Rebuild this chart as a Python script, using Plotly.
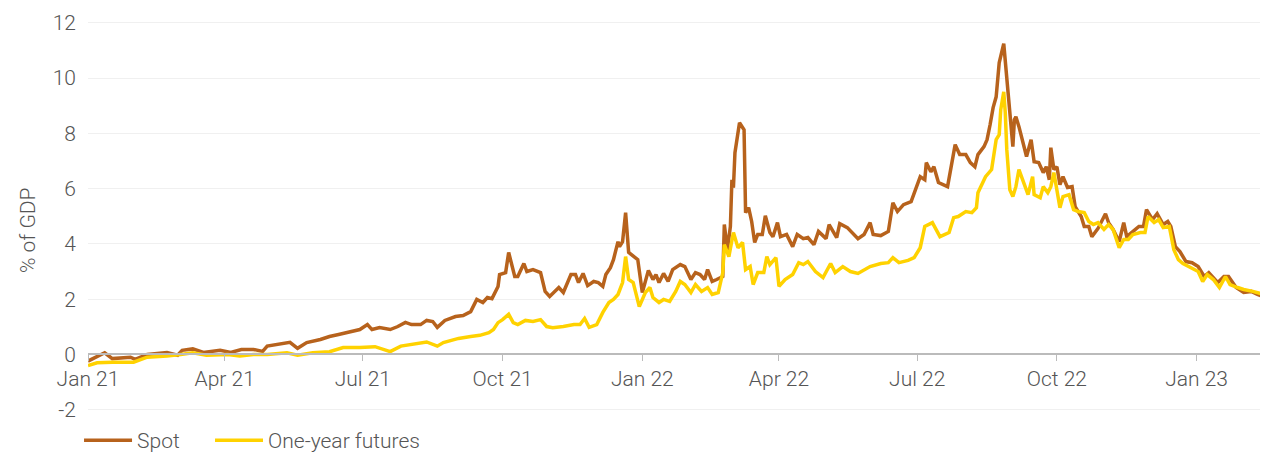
import pandas as pd
import plotly.graph_objects as go

# Days since 2021-01-01 and values (% of GDP)
spot_days = [0, 11, 16, 28, 31, 39, 52, 59, 62, 69, 76, 87, 94, 101, 109, 115, 118, 126, 133, 138,
             144, 153, 159, 165, 173, 179, 184, 187, 192, 199, 204, 209, 213, 219, 223, 227, 230, 235,
             242, 247, 252, 256, 260, 263, 266, 268, 270, 271, 275, 277, 279, 281, 283, 287, 289, 293,
             298, 301, 304, 310, 313, 318, 321, 323, 326, 329, 333, 336, 339, 341, 344, 346, 349, 350,
             352, 354, 356, 359, 362, 365, 367, 369, 372, 374, 376, 379, 382, 385, 390, 393, 397, 400,
             403, 406, 408, 411, 414, 418, 419, 421, 423, 424, 425, 426, 429, 432, 433, 435, 437, 439,
             441, 444, 446, 449, 451, 454, 456, 460, 464, 467, 471, 474, 478, 481, 486, 488, 493, 495,
             500, 507, 511, 515, 517, 522, 527, 530, 533, 537, 542, 545, 548, 551, 552, 555, 557, 560,
             566, 571, 574, 578, 581, 584, 586, 590, 592, 594, 596, 598, 600, 603, 605, 607, 609, 610,
             611, 613, 616, 618, 621, 623, 626, 629, 631, 633, 634, 636, 638, 640, 642, 645, 648, 650,
             654, 656, 659, 661, 665, 668, 670, 672, 675, 679, 682, 684, 688, 692, 695, 697, 701, 704,
             708, 711, 713, 716, 719, 723, 727, 731, 735, 738, 744, 748, 751, 756, 761, 766, 770, 774, 777]
spot_vals = [-0.24, 0.06, -0.15, -0.10, -0.18, 0.00, 0.07, -0.03, 0.15, 0.20, 0.07, 0.15, 0.07, 0.18,
             0.18, 0.11, 0.30, 0.36, 0.44, 0.22, 0.43, 0.54, 0.65, 0.72, 0.83, 0.90, 1.08, 0.90, 0.97,
             0.90, 1.01, 1.16, 1.08, 1.08, 1.23, 1.19, 0.98, 1.23, 1.37, 1.41, 1.55, 1.99, 1.88, 2.06,
             2.02, 2.28, 2.46, 2.89, 2.96, 3.69, 3.18, 2.82, 2.82, 3.29, 3.00, 3.07, 2.96, 2.28, 2.10,
             2.42, 2.24, 2.89, 2.89, 2.60, 2.93, 2.49, 2.64, 2.60, 2.46, 2.89, 3.14, 3.43, 4.08, 3.90,
             4.08, 5.13, 3.69, 3.54, 3.43, 2.24, 2.64, 3.04, 2.71, 2.89, 2.60, 2.93, 2.64, 3.07, 3.25,
             3.18, 2.71, 2.96, 2.89, 2.71, 3.07, 2.64, 2.71, 2.82, 4.70, 3.79, 4.63, 6.32, 6.03, 7.30,
             8.38, 8.13, 5.13, 5.31, 4.81, 4.05, 4.34, 4.34, 5.02, 4.41, 4.26, 4.77, 4.26, 4.34, 3.90,
             4.34, 4.19, 4.23, 3.97, 4.45, 4.19, 4.70, 4.23, 4.73, 4.59, 4.19, 4.34, 4.77, 4.34, 4.30,
             4.45, 5.49, 5.17, 5.42, 5.53, 5.96, 6.43, 6.32, 6.94, 6.61, 6.79, 6.22, 6.07, 7.59, 7.23,
             7.23, 6.94, 6.79, 7.23, 7.52, 7.77, 8.31, 8.93, 9.32, 10.55, 11.24, 10.05, 8.67, 7.52,
             8.49, 8.60, 8.24, 7.52, 7.16, 7.77, 6.97, 6.94, 6.58, 6.79, 6.32, 7.48, 6.69, 6.79, 6.14,
             6.43, 6.04, 6.07, 5.35, 4.99, 4.63, 4.63, 4.26, 4.55, 4.88, 5.09, 4.77, 4.52, 4.08, 4.77,
             4.26, 4.45, 4.63, 4.63, 5.24, 4.88, 5.09, 4.70, 4.81, 4.63, 3.90, 3.72, 3.36, 3.32, 3.18,
             2.82, 2.96, 2.60, 2.82, 2.82, 2.42, 2.24, 2.28, 2.17, 2.10, 1.92]

fut_days = [0, 6, 16, 30, 39, 52, 61, 69, 78, 92, 100, 109, 118, 131, 138, 148, 159, 168, 179, 189,
            199, 206, 223, 230, 234, 244, 252, 258, 264, 267, 270, 273, 277, 280, 283, 288, 293, 298,
            302, 306, 313, 320, 324, 327, 330, 335, 339, 343, 346, 349, 352, 354, 356, 359, 363, 367,
            370, 372, 376, 379, 383, 387, 390, 393, 397, 400, 404, 408, 411, 415, 418, 419, 422, 425,
            428, 431, 433, 436, 438, 441, 445, 447, 449, 453, 455, 459, 464, 468, 471, 474, 479, 484,
            489, 492, 497, 502, 507, 515, 522, 527, 530, 534, 540, 544, 548, 551, 556, 561, 567, 570,
            573, 578, 582, 585, 586, 591, 595, 598, 600, 601, 603, 604, 605, 607, 609, 611, 613, 616,
            619, 622, 623, 627, 629, 632, 634, 636, 638, 640, 642, 646, 649, 652, 656, 659, 662, 665,
            669, 672, 675, 679, 682, 685, 688, 693, 696, 698, 702, 705, 708, 712, 715, 718, 721, 726,
            731, 734, 737, 741, 745, 749, 752, 757, 761, 767, 772, 777]
fut_vals = [-0.40, -0.30, -0.28, -0.28, -0.10, -0.06, 0.00, 0.06, -0.03, 0.00, -0.06, 0.00, 0.00,
            0.06, -0.03, 0.06, 0.10, 0.25, 0.25, 0.28, 0.10, 0.30, 0.45, 0.30, 0.43, 0.58, 0.65, 0.69,
            0.79, 0.90, 1.15, 1.26, 1.45, 1.15, 1.08, 1.23, 1.19, 1.26, 1.01, 0.97, 1.01, 1.08, 1.08,
            1.30, 0.98, 1.08, 1.52, 1.88, 1.99, 2.17, 2.60, 3.54, 2.71, 2.60, 1.73, 2.24, 2.42, 2.06,
            1.88, 1.99, 1.92, 2.28, 2.64, 2.53, 2.24, 2.53, 2.28, 2.42, 2.17, 2.24, 2.96, 3.97, 3.54,
            4.41, 3.86, 4.05, 3.07, 3.18, 2.53, 2.96, 2.96, 3.54, 3.25, 3.50, 2.46, 2.71, 2.89, 3.32,
            3.25, 3.36, 3.00, 2.78, 3.29, 2.96, 3.18, 3.00, 2.93, 3.18, 3.29, 3.32, 3.50, 3.32, 3.40,
            3.50, 3.86, 4.63, 4.77, 4.26, 4.41, 4.95, 4.99, 5.17, 5.13, 5.31, 5.85, 6.43, 6.69, 7.77,
            7.95, 8.85, 9.50, 8.75, 7.41, 5.96, 5.71, 6.07, 6.69, 6.25, 5.78, 6.43, 5.78, 5.67, 6.07,
            5.85, 6.07, 6.58, 5.85, 5.31, 5.71, 5.78, 5.24, 5.17, 5.13, 4.81, 4.70, 4.77, 4.52, 4.70,
            4.52, 3.86, 4.16, 4.16, 4.34, 4.41, 4.41, 4.99, 4.77, 4.88, 4.59, 4.63, 3.79, 3.43, 3.29,
            3.14, 3.00, 2.64, 2.89, 2.71, 2.42, 2.82, 2.53, 2.42, 2.35, 2.28, 2.20, 2.13]

start = pd.Timestamp("2021-01-01")
spot_dates = start + pd.to_timedelta(spot_days, unit="D")
fut_dates = start + pd.to_timedelta(fut_days, unit="D")

y_ticks = [-2, 0, 2, 4, 6, 8, 10, 12]
y_tick_labels = ["-2", "0", "2", "4", "6", "8", "10", "12"]
y_min, y_max = -2.3, 12.1

SPOT = "#B7621C"
FUT = "#FFD200"
FONT = dict(family="Roboto", size=21, color="#555555", weight=300)

fig = go.Figure()
fig.add_trace(go.Scatter(x=spot_dates, y=spot_vals, mode="lines", name="Spot",
                         line=dict(color=SPOT, width=3.5), legend="legend"))
fig.add_trace(go.Scatter(x=fut_dates, y=fut_vals, mode="lines", name="One-year futures",
                         line=dict(color=FUT, width=3.5), legend="legend2"))

LEG = dict(orientation="h", xanchor="left", y=-0.108, yanchor="bottom",
           font=FONT, itemwidth=48, bgcolor="rgba(0,0,0,0)")

# the page body adds an 8px offset, so the figure is sized to fit the window
fig.update_layout(
    width=1260, height=446,
    margin=dict(l=80, r=0, t=12, b=36, autoexpand=False),
    paper_bgcolor="white", plot_bgcolor="white",
    font=FONT,
    showlegend=True,
    legend=dict(LEG, x=-0.0076),
    legend2=dict(LEG, x=0.1034),
    xaxis=dict(
        type="date",
        range=["2021-01-01", "2023-02-17"],
        tick0="2021-01-01", dtick="M3", tickformat="%b %y",
        showgrid=False, zeroline=False,
        showline=True, linecolor="#BBBBBB", linewidth=1.5,
        ticks="outside", ticklen=6, tickcolor="#BBBBBB",
        anchor="free", position=(0 - y_min) / (y_max - y_min),
        tickfont=FONT, automargin=False,
    ),
    yaxis=dict(
        range=[y_min, y_max],
        tickvals=y_ticks, ticktext=y_tick_labels,
        showgrid=True, gridcolor="#F0F0F0", gridwidth=1,
        zeroline=False, showline=False,
        ticklabelstandoff=11,
        tickfont=FONT, automargin=False,
    ),
    annotations=[dict(
        text="% of GDP", textangle=-90, showarrow=False,
        xref="paper", yref="paper", x=-0.0508, y=(4.5 - y_min) / (y_max - y_min),
        xanchor="center", yanchor="middle", font=FONT,
    )],
)

fig.write_html("out.html")
